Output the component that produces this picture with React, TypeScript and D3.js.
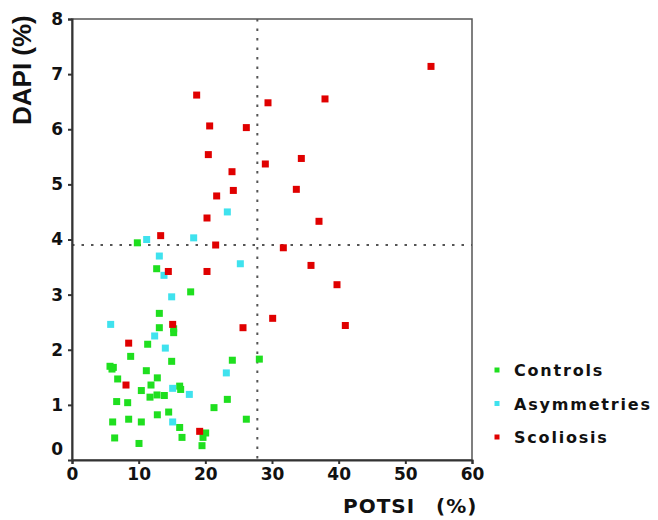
import React, { useEffect, useRef } from 'react';
import * as d3 from 'd3';

type Pt = [number, number];

const controls: Pt[] = [
  [9.8, 3.94], [12.7, 3.47], [17.8, 3.05], [13.1, 2.66], [13.1, 2.4], [15.25, 2.38],
  [15.25, 2.31], [11.35, 2.1], [8.8, 1.88], [14.95, 1.79], [24.05, 1.81], [28.1, 1.83],
  [5.7, 1.7], [6.2, 1.68], [6.0, 1.65], [11.15, 1.62], [6.85, 1.47], [12.8, 1.49],
  [11.85, 1.36], [16.15, 1.34], [16.3, 1.28], [10.4, 1.26], [11.7, 1.14], [12.75, 1.18],
  [13.85, 1.17], [6.7, 1.06], [8.35, 1.04], [23.3, 1.1], [21.3, 0.95], [14.5, 0.87],
  [12.8, 0.82], [6.1, 0.69], [8.5, 0.74], [10.4, 0.69], [26.15, 0.74], [16.15, 0.59],
  [20.05, 0.49], [19.65, 0.41], [16.5, 0.41], [19.5, 0.26], [6.4, 0.4], [10.05, 0.3]
];

const asymmetries: Pt[] = [
  [23.3, 4.5], [18.25, 4.03], [11.2, 4.0], [13.1, 3.7], [25.25, 3.56], [13.8, 3.35],
  [14.95, 2.96], [5.8, 2.46], [12.4, 2.25], [14.0, 2.03], [23.15, 1.58], [15.1, 1.3],
  [17.6, 1.19], [15.1, 0.69]
];

const scoliosis: Pt[] = [
  [18.7, 6.62], [29.4, 6.48], [37.95, 6.55], [20.65, 6.06], [26.15, 6.03], [20.45, 5.54],
  [29.0, 5.37], [34.4, 5.47], [24.0, 5.23], [24.2, 4.89], [33.65, 4.91], [21.7, 4.79],
  [20.25, 4.39], [37.05, 4.33], [13.3, 4.07], [21.55, 3.9], [31.7, 3.85], [14.45, 3.42],
  [20.25, 3.42], [35.85, 3.53], [39.75, 3.18], [30.1, 2.57], [25.65, 2.4], [41.0, 2.44],
  [15.1, 2.46], [8.5, 2.12], [8.1, 1.36], [19.15, 0.52], [53.85, 7.14]
];

const groups = [
  { name: 'Controls', color: '#1fdf1f', data: controls },
  { name: 'Asymmetries', color: '#3fe2ee', data: asymmetries },
  { name: 'Scoliosis', color: '#e00000', data: scoliosis }
];

const xTicks = [0, 10, 20, 30, 40, 50, 60];
const yTicks = [0, 1, 2, 3, 4, 5, 6, 7, 8];
const cutX = 27.8;
const cutY = 3.9;

const App = () => {
  const ref = useRef<SVGSVGElement>(null);

  useEffect(() => {
    const width = 658;
    const height = 520;
    const svg = d3.select(ref.current);
    svg.selectAll('*').remove();
    svg.attr('width', width).attr('height', height);

    const x = d3.scaleLinear().domain([0, 60]).range([72, 472]);
    const y = d3.scaleLinear().domain([0, 8]).range([460, 19]);
    const wide = '"DejaVu Sans", Verdana, sans-serif';
    const arial = '"Liberation Sans", Arial, sans-serif';

    svg.append('rect').attr('width', width).attr('height', height).attr('fill', '#fff');

    // frame
    svg
      .append('rect')
      .attr('x', x(0))
      .attr('y', y(8))
      .attr('width', x(60) - x(0))
      .attr('height', y(0) - y(8))
      .attr('fill', 'none')
      .attr('stroke', '#555')
      .attr('stroke-width', 1.5);

    // cut-off lines
    const dash = { stroke: '#555', width: 2, array: '2.5,7' };
    svg
      .append('line')
      .attr('x1', x(cutX)).attr('x2', x(cutX))
      .attr('y1', y(8)).attr('y2', y(0))
      .attr('stroke', dash.stroke).attr('stroke-width', dash.width)
      .attr('stroke-dasharray', dash.array);
    svg
      .append('line')
      .attr('x1', x(0)).attr('x2', x(60))
      .attr('y1', y(cutY)).attr('y2', y(cutY))
      .attr('stroke', dash.stroke).attr('stroke-width', dash.width)
      .attr('stroke-dasharray', dash.array);

    // axes
    const xAxis = svg
      .append('g')
      .attr('transform', `translate(0,${y(0)})`)
      .call(d3.axisBottom(x).tickValues(xTicks).tickSize(4).tickPadding(4));
    const yAxis = svg
      .append('g')
      .attr('transform', `translate(${x(0)},0)`)
      .call(d3.axisLeft(y).tickValues(yTicks).tickSize(4).tickPadding(5));

    [xAxis, yAxis].forEach(g => {
      g.select('.domain').attr('stroke', '#333').attr('stroke-width', 2);
      g.selectAll('.tick line').attr('stroke', '#333').attr('stroke-width', 2);
      g.selectAll('.tick text')
        .attr('fill', '#111')
        .style('font-family', wide)
        .style('font-weight', 'bold')
        .style('font-size', '17px');
    });
    // the zero on the y axis sits above the corner
    yAxis.selectAll('.tick text').filter(d => d === 0).attr('y', -11);
    yAxis.selectAll('.tick line').filter(d => d === 0).remove();

    // points
    const s = 7;
    groups.forEach(gr => {
      svg
        .append('g')
        .selectAll('rect')
        .data(gr.data)
        .join('rect')
        .attr('x', d => x(d[0]) - s / 2)
        .attr('y', d => y(d[1]) - s / 2)
        .attr('width', s)
        .attr('height', s)
        .attr('fill', gr.color);
    });

    // axis titles
    const xt = svg
      .append('text')
      .attr('y', 513)
      .style('font-family', wide)
      .style('font-weight', 'bold')
      .style('font-size', '20px')
      .style('letter-spacing', '1px')
      .attr('fill', '#111');
    xt.append('tspan').attr('x', 343).text('POTSI');
    xt.append('tspan').attr('x', 436).text('(%)');

    svg
      .append('text')
      .attr('transform', 'translate(31,125) rotate(-90)')
      .style('font-family', arial)
      .style('font-weight', 'bold')
      .style('font-size', '26px')
      .attr('fill', '#111')
      .text('DAPI (%)');

    // legend
    const legend = svg
      .append('g')
      .selectAll('g')
      .data(groups)
      .join('g')
      .attr('transform', (d, i) => `translate(497,${370 + i * 33.5})`);
    legend
      .append('rect')
      .attr('x', -2.5)
      .attr('y', -2.5)
      .attr('width', 5)
      .attr('height', 5)
      .attr('fill', d => d.color);
    legend
      .append('text')
      .attr('x', 17)
      .attr('y', 6)
      .style('font-family', wide)
      .style('font-weight', 'bold')
      .style('font-size', '16px')
      .style('letter-spacing', '1.8px')
      .attr('fill', '#111')
      .text(d => d.name);
  }, []);

  return (
    <div style={{ position: 'absolute', left: 0, top: 0 }}>
      <svg ref={ref}></svg>
    </div>
  );
};

export default App;
